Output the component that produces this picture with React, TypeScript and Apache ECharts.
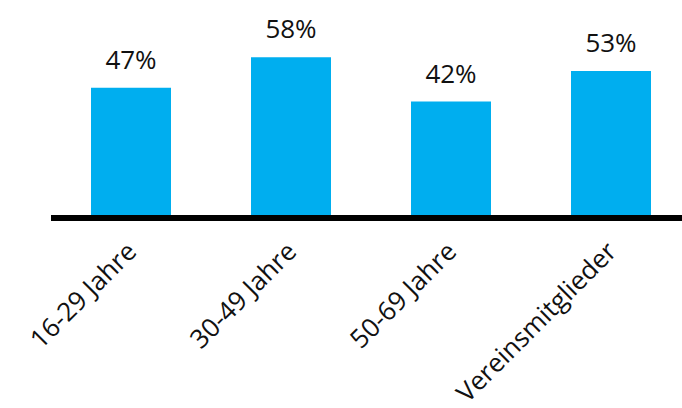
import React, { useEffect, useRef } from "react";
import * as echarts from "echarts";

const categories = ["16-29 Jahre", "30-49 Jahre", "50-69 Jahre", "Vereinsmitglieder"];
const values = [47, 58, 42, 53];

export default function App() {
  const ref = useRef<HTMLDivElement>(null);
  useEffect(() => {
    const chart = echarts.init(ref.current!, null, { renderer: "svg" });
    chart.setOption({
      animation: false,
      grid: { left: 51, width: 640, top: 0, bottom: 190, containLabel: false, outerBoundsMode: "none" },
      xAxis: {
        type: "category",
        data: categories,
        z: 5,
        axisLine: { lineStyle: { color: "#000", width: 6, cap: "butt" } },
        axisTick: { show: false },
        axisLabel: {
          rotate: 45,
          interval: 0,
          margin: 28,
          fontFamily: "Open Sans",
          fontSize: 26,
          color: "#111",
        },
      },
      yAxis: {
        type: "value",
        min: 0,
        max: 78.6,
        show: false,
        splitLine: { show: false },
      },
      series: [
        {
          type: "bar",
          data: values,
          barWidth: 80,
          itemStyle: { color: "#00AEEF" },
          label: {
            show: true,
            position: "top",
            distance: 16,
            formatter: "{c}%",
            fontFamily: "Open Sans",
            fontSize: 26,
            color: "#111",
          },
        },
      ],
    });
    return () => chart.dispose();
  }, []);
  return <div ref={ref} style={{ width: 682, height: 408, position: "absolute", left: 0, top: 0 }} />;
}
